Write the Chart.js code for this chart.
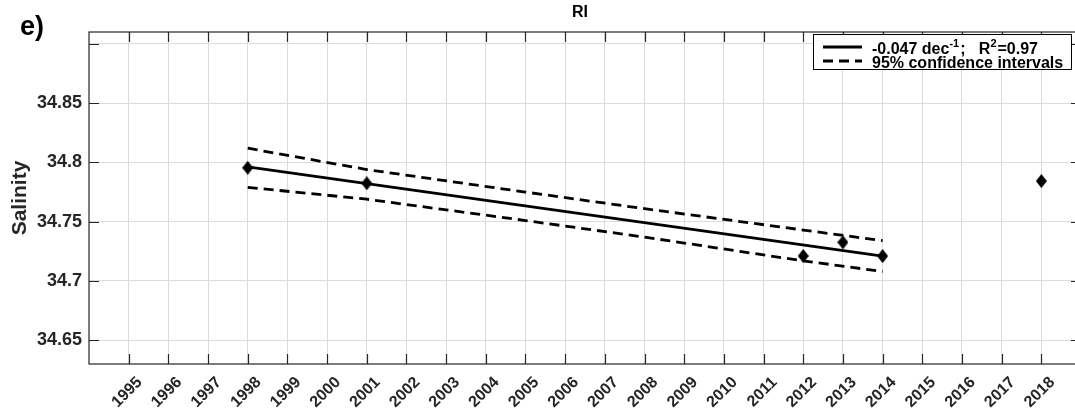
<!DOCTYPE html>
<html>
<head>
<meta charset="utf-8">
<script src="https://cdn.jsdelivr.net/npm/chart.js@4.4.1/dist/chart.umd.min.js"></script>
<style>
  html, body { margin: 0; padding: 0; background: #fff; overflow: hidden; }
  #wrap { width: 1095px; height: 417px; }
</style>
</head>
<body>
<div id="wrap"><canvas id="salinityChart" width="1095" height="417"></canvas></div>
<script>
"use strict";

// tick positions
const xTicks = [1995, 1996, 1997, 1998, 1999, 2000, 2001, 2002, 2003, 2004, 2005, 2006,
  2007, 2008, 2009, 2010, 2011, 2012, 2013, 2014, 2015, 2016, 2017, 2018];
const yTicks = [34.65, 34.7, 34.75, 34.8, 34.85, 34.9];

// observations
const obsYears = [1998, 2001, 2012, 2013, 2014, 2018];
const obsSalinity = [34.7955, 34.7824, 34.7211, 34.7326, 34.721, 34.7843];

// linear trend
const fitYears = [1998, 2014];
const fitSalinity = [34.7962, 34.721];

// 95% confidence band
const ciYears = [1998, 2001, 2005, 2008, 2012, 2014];
const ciUpper = [34.812, 34.794, 34.775, 34.761, 34.743, 34.734];
const ciLower = [34.779, 34.769, 34.751, 34.737, 34.717, 34.708];

const FONT = "'Liberation Sans', Arial, sans-serif";
const INK = "#262626";
Chart.defaults.font.family = FONT;
Chart.defaults.color = INK;

const pts = (xs, ys) => xs.map((x, i) => ({ x, y: ys[i] }));

function makeDiamond(w, h) {
  const c = document.createElement("canvas");
  c.width = w;
  c.height = h;
  const g = c.getContext("2d");
  g.beginPath();
  g.moveTo(w / 2, 0);
  g.lineTo(w, h / 2);
  g.lineTo(w / 2, h);
  g.lineTo(0, h / 2);
  g.closePath();
  g.fillStyle = "#000";
  g.fill();
  return c;
}

// box, inward ticks, title, panel letter, legend
const decorPlugin = {
  id: "decor",
  afterDraw(chart) {
    const { ctx, chartArea: a, scales } = chart;
    const tl = 10;
    ctx.save();
    ctx.strokeStyle = INK;
    ctx.lineWidth = 1.2;
    ctx.strokeRect(a.left, a.top, a.right - a.left, a.bottom - a.top);
    ctx.beginPath();
    xTicks.forEach((v) => {
      const px = Math.round(scales.x.getPixelForValue(v)) + 0.5;
      ctx.moveTo(px, a.bottom);
      ctx.lineTo(px, a.bottom - tl);
      ctx.moveTo(px, a.top);
      ctx.lineTo(px, a.top + tl);
    });
    yTicks.forEach((v) => {
      const py = Math.round(scales.y.getPixelForValue(v)) + 0.5;
      ctx.moveTo(a.left, py);
      ctx.lineTo(a.left + tl, py);
      ctx.moveTo(a.right, py);
      ctx.lineTo(a.right - tl, py);
    });
    ctx.stroke();

    // title and panel letter
    ctx.fillStyle = "#000";
    ctx.textAlign = "center";
    ctx.textBaseline = "alphabetic";
    ctx.font = "bold 16px " + FONT;
    ctx.fillText("RI", (a.left + a.right) / 2 - 5, 17);
    ctx.textAlign = "left";
    ctx.font = "bold 27px " + FONT;
    ctx.fillText("e)", 20, 35);

    // legend
    const bx = a.right - 268, by = a.top + 2, bw = 258, bh = 35;
    ctx.fillStyle = "#fff";
    ctx.fillRect(bx, by, bw, bh);
    ctx.strokeStyle = "#000";
    ctx.lineWidth = 1;
    ctx.strokeRect(bx + 0.5, by + 0.5, bw, bh);
    const fit = chart.data.datasets[0], ci = chart.data.datasets[1];
    [[fit, by + 13], [ci, by + 27]].forEach(([ds, y]) => {
      ctx.beginPath();
      ctx.setLineDash(ds.borderDash || []);
      ctx.lineWidth = ds.borderWidth;
      ctx.strokeStyle = ds.borderColor;
      ctx.moveTo(bx + 10, y);
      ctx.lineTo(bx + 49, y);
      ctx.stroke();
    });
    ctx.setLineDash([]);
    ctx.fillStyle = "#000";
    const big = "bold 16px " + FONT, sup = "bold 11px " + FONT;
    let x = bx + 59;
    const row1 = by + 20;
    [["-0.047 dec", big, 0], ["-1", sup, -7], [";   R", big, 0], ["2", sup, -7], ["=0.97", big, 0]].forEach(([t, f, dy]) => {
      ctx.font = f;
      ctx.fillText(t, x, row1 + dy);
      x += ctx.measureText(t).width + (f === sup ? 1 : 0);
    });
    ctx.font = big;
    ctx.fillText(ci.label, bx + 59, by + 34);
    ctx.restore();
  },
};

const ctx = document.getElementById("salinityChart").getContext("2d");
new Chart(ctx, {
  type: "scatter",
  data: {
    datasets: [
      {
        label: "-0.047 dec-1; R2=0.97",
        type: "line",
        data: pts(fitYears, fitSalinity),
        borderColor: "#000",
        borderWidth: 2.8,
        pointRadius: 0,
        fill: false,
      },
      {
        label: "95% confidence intervals",
        type: "line",
        data: pts(ciYears, ciUpper),
        borderColor: "#000",
        borderWidth: 2.8,
        borderDash: [10, 6],
        pointRadius: 0,
        fill: false,
      },
      {
        label: "95% confidence intervals (lower)",
        type: "line",
        data: pts(ciYears, ciLower),
        borderColor: "#000",
        borderWidth: 2.8,
        borderDash: [10, 6],
        pointRadius: 0,
        fill: false,
      },
      {
        label: "Salinity",
        data: pts(obsYears, obsSalinity),
        pointStyle: makeDiamond(11, 14),
        pointRadius: 7,
        backgroundColor: "#000",
        borderColor: "#000",
      },
    ],
  },
  options: {
    responsive: false,
    animation: false,
    layout: { padding: { top: 32, right: 14, bottom: 0, left: 0 } },
    plugins: { legend: { display: false }, tooltip: { enabled: false } },
    scales: {
      x: {
        type: "linear",
        min: 1994,
        max: 2019,
        afterBuildTicks: (s) => (s.ticks = xTicks.map((value) => ({ value }))),
        afterFit: (s) => (s.height = 53),
        ticks: {
          autoSkip: false,
          minRotation: 45,
          maxRotation: 45,
          padding: 9,
          labelOffset: 11,
          font: { size: 16, weight: "bold" },
          callback: (v) => String(v),
        },
        grid: { color: "#dcdcdc", drawTicks: false },
        border: { display: false },
      },
      y: {
        type: "linear",
        min: 34.63,
        max: 34.91,
        afterBuildTicks: (s) => (s.ticks = yTicks.map((value) => ({ value }))),
        afterFit: (s) => (s.width = 89),
        ticks: {
          padding: 7,
          font: { size: 18, weight: "bold" },
          callback: (v) => (v > 34.89 ? "" : String(+v.toFixed(2))),
        },
        title: {
          display: true,
          text: "Salinity",
          font: { size: 21, weight: "bold" },
          padding: { top: 8, bottom: 0 },
        },
        grid: { color: "#dcdcdc", drawTicks: false },
        border: { display: false },
      },
    },
  },
  plugins: [decorPlugin],
});
</script>
</body>
</html>
